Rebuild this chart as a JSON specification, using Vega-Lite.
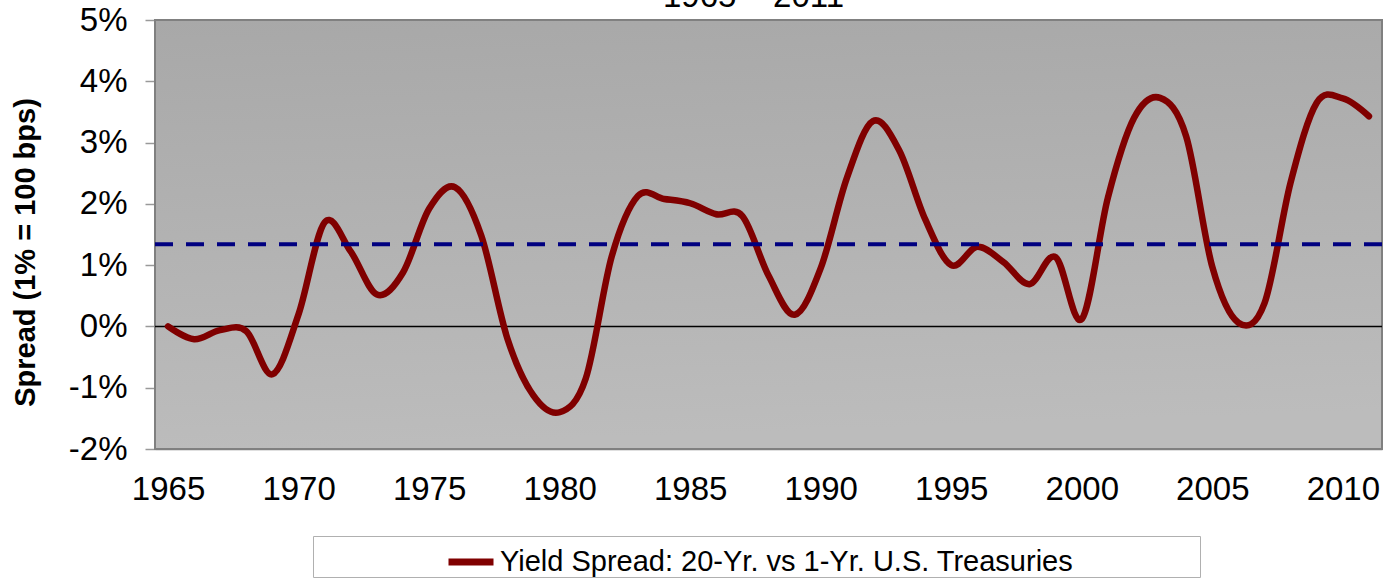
{
  "$schema": "https://vega.github.io/schema/vega-lite/v6.json",
  "autosize": {"type": "none"},
  "width": 1227,
  "height": 429,
  "padding": {"left": 155, "top": 20, "right": 17, "bottom": 135},
  "background": "white",
  "config": {
    "font": "Liberation Sans",
    "view": {"stroke": null}
  },
  "resolve": {"axis": {"x": "independent"}},
  "datasets": {
    "spread": [
      {"year": 1965, "spread": 0.00, "series": "Yield Spread: 20-Yr. vs 1-Yr. U.S. Treasuries"},
      {"year": 1966, "spread": -0.21, "series": "Yield Spread: 20-Yr. vs 1-Yr. U.S. Treasuries"},
      {"year": 1967, "spread": -0.06, "series": "Yield Spread: 20-Yr. vs 1-Yr. U.S. Treasuries"},
      {"year": 1968, "spread": -0.08, "series": "Yield Spread: 20-Yr. vs 1-Yr. U.S. Treasuries"},
      {"year": 1969, "spread": -0.78, "series": "Yield Spread: 20-Yr. vs 1-Yr. U.S. Treasuries"},
      {"year": 1970, "spread": 0.20, "series": "Yield Spread: 20-Yr. vs 1-Yr. U.S. Treasuries"},
      {"year": 1971, "spread": 1.70, "series": "Yield Spread: 20-Yr. vs 1-Yr. U.S. Treasuries"},
      {"year": 1972, "spread": 1.22, "series": "Yield Spread: 20-Yr. vs 1-Yr. U.S. Treasuries"},
      {"year": 1973, "spread": 0.52, "series": "Yield Spread: 20-Yr. vs 1-Yr. U.S. Treasuries"},
      {"year": 1974, "spread": 0.88, "series": "Yield Spread: 20-Yr. vs 1-Yr. U.S. Treasuries"},
      {"year": 1975, "spread": 1.92, "series": "Yield Spread: 20-Yr. vs 1-Yr. U.S. Treasuries"},
      {"year": 1976, "spread": 2.27, "series": "Yield Spread: 20-Yr. vs 1-Yr. U.S. Treasuries"},
      {"year": 1977, "spread": 1.48, "series": "Yield Spread: 20-Yr. vs 1-Yr. U.S. Treasuries"},
      {"year": 1978, "spread": -0.20, "series": "Yield Spread: 20-Yr. vs 1-Yr. U.S. Treasuries"},
      {"year": 1979, "spread": -1.13, "series": "Yield Spread: 20-Yr. vs 1-Yr. U.S. Treasuries"},
      {"year": 1980, "spread": -1.40, "series": "Yield Spread: 20-Yr. vs 1-Yr. U.S. Treasuries"},
      {"year": 1981, "spread": -0.85, "series": "Yield Spread: 20-Yr. vs 1-Yr. U.S. Treasuries"},
      {"year": 1982, "spread": 1.15, "series": "Yield Spread: 20-Yr. vs 1-Yr. U.S. Treasuries"},
      {"year": 1983, "spread": 2.13, "series": "Yield Spread: 20-Yr. vs 1-Yr. U.S. Treasuries"},
      {"year": 1984, "spread": 2.08, "series": "Yield Spread: 20-Yr. vs 1-Yr. U.S. Treasuries"},
      {"year": 1985, "spread": 2.01, "series": "Yield Spread: 20-Yr. vs 1-Yr. U.S. Treasuries"},
      {"year": 1986, "spread": 1.83, "series": "Yield Spread: 20-Yr. vs 1-Yr. U.S. Treasuries"},
      {"year": 1987, "spread": 1.80, "series": "Yield Spread: 20-Yr. vs 1-Yr. U.S. Treasuries"},
      {"year": 1988, "spread": 0.83, "series": "Yield Spread: 20-Yr. vs 1-Yr. U.S. Treasuries"},
      {"year": 1989, "spread": 0.19, "series": "Yield Spread: 20-Yr. vs 1-Yr. U.S. Treasuries"},
      {"year": 1990, "spread": 0.95, "series": "Yield Spread: 20-Yr. vs 1-Yr. U.S. Treasuries"},
      {"year": 1991, "spread": 2.42, "series": "Yield Spread: 20-Yr. vs 1-Yr. U.S. Treasuries"},
      {"year": 1992, "spread": 3.35, "series": "Yield Spread: 20-Yr. vs 1-Yr. U.S. Treasuries"},
      {"year": 1993, "spread": 2.88, "series": "Yield Spread: 20-Yr. vs 1-Yr. U.S. Treasuries"},
      {"year": 1994, "spread": 1.75, "series": "Yield Spread: 20-Yr. vs 1-Yr. U.S. Treasuries"},
      {"year": 1995, "spread": 1.00, "series": "Yield Spread: 20-Yr. vs 1-Yr. U.S. Treasuries"},
      {"year": 1996, "spread": 1.30, "series": "Yield Spread: 20-Yr. vs 1-Yr. U.S. Treasuries"},
      {"year": 1997, "spread": 1.05, "series": "Yield Spread: 20-Yr. vs 1-Yr. U.S. Treasuries"},
      {"year": 1998, "spread": 0.69, "series": "Yield Spread: 20-Yr. vs 1-Yr. U.S. Treasuries"},
      {"year": 1999, "spread": 1.13, "series": "Yield Spread: 20-Yr. vs 1-Yr. U.S. Treasuries"},
      {"year": 2000, "spread": 0.12, "series": "Yield Spread: 20-Yr. vs 1-Yr. U.S. Treasuries"},
      {"year": 2001, "spread": 2.10, "series": "Yield Spread: 20-Yr. vs 1-Yr. U.S. Treasuries"},
      {"year": 2002, "spread": 3.40, "series": "Yield Spread: 20-Yr. vs 1-Yr. U.S. Treasuries"},
      {"year": 2003, "spread": 3.73, "series": "Yield Spread: 20-Yr. vs 1-Yr. U.S. Treasuries"},
      {"year": 2004, "spread": 3.10, "series": "Yield Spread: 20-Yr. vs 1-Yr. U.S. Treasuries"},
      {"year": 2005, "spread": 0.97, "series": "Yield Spread: 20-Yr. vs 1-Yr. U.S. Treasuries"},
      {"year": 2006, "spread": 0.06, "series": "Yield Spread: 20-Yr. vs 1-Yr. U.S. Treasuries"},
      {"year": 2007, "spread": 0.38, "series": "Yield Spread: 20-Yr. vs 1-Yr. U.S. Treasuries"},
      {"year": 2008, "spread": 2.35, "series": "Yield Spread: 20-Yr. vs 1-Yr. U.S. Treasuries"},
      {"year": 2009, "spread": 3.65, "series": "Yield Spread: 20-Yr. vs 1-Yr. U.S. Treasuries"},
      {"year": 2010, "spread": 3.72, "series": "Yield Spread: 20-Yr. vs 1-Yr. U.S. Treasuries"},
      {"year": 2011, "spread": 3.43, "series": "Yield Spread: 20-Yr. vs 1-Yr. U.S. Treasuries"}
    ],
    "avg": [{"average": 1.34}]
  },
  "layer": [
    {
      "data": {"name": "avg"},
      "mark": {
        "type": "rect",
        "fill": {
          "gradient": "linear",
          "x1": 0, "y1": 0, "x2": 0.1, "y2": 1,
          "stops": [
            {"offset": 0, "color": "#a8a8a8"},
            {"offset": 1, "color": "#bcbcbc"}
          ]
        },
        "stroke": "#808080",
        "strokeWidth": 2
      },
      "encoding": {
        "x": {
          "datum": 1964.5,
          "type": "quantitative",
          "scale": {"domain": [1964.5, 2011.5], "nice": false, "zero": false},
          "axis": {
            "orient": "top",
            "labels": false,
            "ticks": false,
            "domain": false,
            "grid": false,
            "title": "1965 – 2011",
            "titleFont": "Liberation Sans",
            "titleFontSize": 33,
            "titleFontWeight": "normal",
            "titleColor": "black",
            "titleX": 598,
            "titleY": -14,
            "titleAlign": "center",
            "titleBaseline": "alphabetic",
            "titleAngle": 0
          }
        },
        "x2": {"datum": 2011.5},
        "y": {"datum": 5, "type": "quantitative", "scale": {"domain": [-2, 5]}},
        "y2": {"datum": -2}
      }
    },
    {
      "data": {"name": "avg"},
      "mark": {"type": "rule", "color": "#000000", "strokeWidth": 1.5},
      "encoding": {
        "y": {"datum": 0, "type": "quantitative"}
      }
    },
    {
      "data": {"name": "spread"},
      "mark": {"type": "line", "interpolate": "cardinal", "strokeWidth": 6.5, "strokeCap": "round", "strokeJoin": "round"},
      "encoding": {
        "x": {
          "field": "year",
          "type": "quantitative",
          "scale": {"domain": [1964.5, 2011.5], "nice": false, "zero": false},
          "axis": {
            "orient": "bottom",
            "values": [1965, 1970, 1975, 1980, 1985, 1990, 1995, 2000, 2005, 2010],
            "format": "d",
            "title": null,
            "grid": false,
            "ticks": false,
            "domain": false,
            "labelFontSize": 33,
            "labelColor": "black",
            "labelPadding": 24,
            "labelFont": "Liberation Sans"
          }
        },
        "y": {
          "field": "spread",
          "type": "quantitative",
          "scale": {"domain": [-2, 5], "nice": false},
          "axis": {
            "values": [-2, -1, 0, 1, 2, 3, 4, 5],
            "labelExpr": "datum.value + '%'",
            "title": "Spread (1% = 100 bps)",
            "titleFontSize": 29,
            "titleFontWeight": "bold",
            "titleColor": "black",
            "titleFont": "Liberation Sans",
            "titleX": -130,
            "titleY": 232,
            "titleAngle": -90,
            "titleAlign": "center",
            "titleBaseline": "middle",
            "grid": true,
            "gridColor": "#808080",
            "gridWidth": 1.5,
            "ticks": true,
            "tickSize": 10,
            "tickColor": "#999999",
            "tickWidth": 1.5,
            "domain": true,
            "domainColor": "black",
            "domainWidth": 2,
            "labelFontSize": 33,
            "labelColor": "black",
            "labelPadding": 18,
            "labelFont": "Liberation Sans"
          }
        },
        "color": {
          "field": "series",
          "type": "nominal",
          "scale": {"domain": ["Yield Spread: 20-Yr. vs 1-Yr. U.S. Treasuries"], "range": ["#800000"]},
          "legend": {
            "orient": "none",
            "legendX": 158,
            "legendY": 516,
            "title": null,
            "direction": "horizontal",
            "symbolType": "stroke",
            "symbolStrokeWidth": 7,
            "symbolSize": 2025,
            "symbolOffset": 132,
            "labelFontSize": 29,
            "labelFont": "Liberation Sans",
            "labelColor": "black",
            "labelOffset": 3,
            "labelLimit": 0,
            "labelExpr": "datum.label + '\u2800\u2800\u2800\u2800\u2800\u2800'",
            "padding": 0,
            "strokeColor": "#b0b0b0",
            "fillColor": "white"
          }
        }
      }
    },
    {
      "data": {"name": "avg"},
      "mark": {"type": "rule", "color": "#000080", "strokeWidth": 4, "strokeDash": [18, 13]},
      "encoding": {
        "y": {"field": "average", "type": "quantitative"}
      }
    }
  ]
}
